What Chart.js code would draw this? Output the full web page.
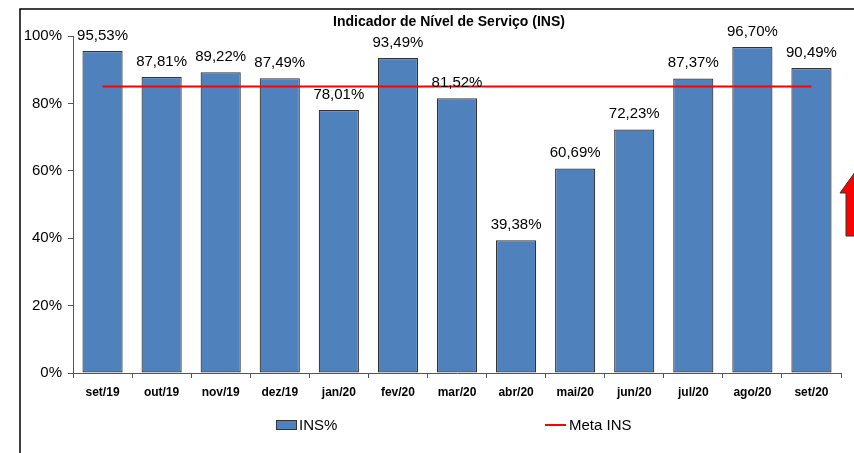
<!DOCTYPE html>
<html>
<head>
<meta charset="utf-8">
<script src="https://cdn.jsdelivr.net/npm/chart.js@4/dist/chart.umd.min.js"></script>
<style>
  html, body { margin: 0; padding: 0; background: #fff; }
  #wrap { width: 854px; height: 453px; }
</style>
</head>
<body>
<div id="wrap"><canvas id="insChart" width="854" height="453"></canvas></div>
<script>
// months on the x axis
const months = ['set/19', 'out/19', 'nov/19', 'dez/19', 'jan/20', 'fev/20', 'mar/20',
                'abr/20', 'mai/20', 'jun/20', 'jul/20', 'ago/20', 'set/20'];
// INS % per month
const insValues = [95.53, 87.81, 89.22, 87.49, 78.01, 93.49, 81.52,
                   39.38, 60.69, 72.23, 87.37, 96.70, 90.49];
// target line
const metaValues = [85, 85, 85, 85, 85, 85, 85, 85, 85, 85, 85, 85, 85];
const yTicks = [0, 20, 40, 60, 80, 100];

const fmt = v => v.toFixed(2).replace('.', ',') + '%';

// frame, title, arrow, value labels and legend
const extras = {
  id: 'extras',
  afterDatasetsDraw(chart) {
    const c = chart.ctx;
    c.save();
    // value labels above bars (dataset 0 = bars)
    const meta = chart.getDatasetMeta(0);
    c.fillStyle = '#000';
    c.font = '15px Arial, "Liberation Sans", sans-serif';
    c.textAlign = 'center';
    c.textBaseline = 'bottom';
    meta.data.forEach((bar, i) => {
      c.fillText(fmt(insValues[i]), bar.x, bar.y - 8);
    });
    c.restore();
  },
  afterDraw(chart) {
    const c = chart.ctx;
    c.save();
    // outer frame
    c.strokeStyle = '#000';
    c.lineWidth = 1.5;
    c.beginPath();
    c.moveTo(20, 460);
    c.lineTo(20, 9);
    c.lineTo(860, 9);
    c.stroke();

    // title
    c.fillStyle = '#000';
    c.font = 'bold 14px Arial, "Liberation Sans", sans-serif';
    c.textAlign = 'center';
    c.textBaseline = 'middle';
    c.fillText('Indicador de Nível de Serviço (INS)', 449, 22);

    // legend
    const ds = chart.data.datasets;
    c.font = '15px Arial, "Liberation Sans", sans-serif';
    c.textAlign = 'left';
    c.fillStyle = ds[0].backgroundColor;
    c.strokeStyle = ds[0].borderColor;
    c.lineWidth = 1;
    c.fillRect(276, 420, 21, 10);
    c.strokeRect(276.5, 420.5, 20, 9);
    c.fillStyle = '#000';
    c.fillText(ds[0].label, 299, 426);
    c.strokeStyle = ds[1].borderColor;
    c.lineWidth = 2;
    c.beginPath();
    c.moveTo(545, 425);
    c.lineTo(566, 425);
    c.stroke();
    c.fillText(ds[1].label, 569, 426);

    // red arrow cut off at the right edge
    c.fillStyle = '#ff0000';
    c.strokeStyle = '#333';
    c.lineWidth = 1;
    c.beginPath();
    c.moveTo(858, 168);
    c.lineTo(840, 193);
    c.lineTo(846, 193);
    c.lineTo(846, 236);
    c.lineTo(870, 236);
    c.lineTo(870, 168);
    c.closePath();
    c.fill();
    c.stroke();
    c.restore();
  }
};

new Chart(document.getElementById('insChart'), {
  data: {
    labels: months,
    datasets: [
      {
        type: 'bar',
        label: 'INS%',
        data: insValues,
        backgroundColor: '#4f81bd',
        borderColor: '#333333',
        borderWidth: 1.2,
        borderSkipped: false,
        barPercentage: 0.68,
        categoryPercentage: 1,
        order: 1
      },
      {
        type: 'line',
        label: 'Meta INS',
        data: metaValues,
        borderColor: '#ff0000',
        borderWidth: 2,
        pointRadius: 0,
        fill: false,
        order: 0
      }
    ]
  },
  options: {
    responsive: false,
    animation: false,
    events: [],
    layout: { padding: { left: 0, top: 36, right: 13, bottom: 0 } },
    plugins: {
      legend: { display: false },
      title: { display: false },
      tooltip: { enabled: false }
    },
    scales: {
      x: {
        offset: true,
        grid: { offset: true, drawOnChartArea: false, drawTicks: true, tickLength: 5, color: '#555' },
        border: { color: '#555', width: 1 },
        ticks: {
          color: '#000',
          font: { family: 'Arial, "Liberation Sans", sans-serif', size: 12, weight: 'bold' },
          padding: 7,
          maxRotation: 0,
          autoSkip: false
        },
        afterFit(scale) { scale.height = 80; }
      },
      y: {
        min: 0,
        max: 100,
        afterBuildTicks(scale) { scale.ticks = yTicks.map(v => ({ value: v })); },
        grid: { drawOnChartArea: false, drawTicks: true, tickLength: 5, color: '#555' },
        border: { color: '#555', width: 1 },
        ticks: {
          color: '#000',
          font: { family: 'Arial, "Liberation Sans", sans-serif', size: 15 },
          padding: 6,
          callback: v => v + '%'
        },
        afterFit(scale) { scale.width = 73; }
      }
    }
  },
  plugins: [extras]
});
</script>
</body>
</html>
